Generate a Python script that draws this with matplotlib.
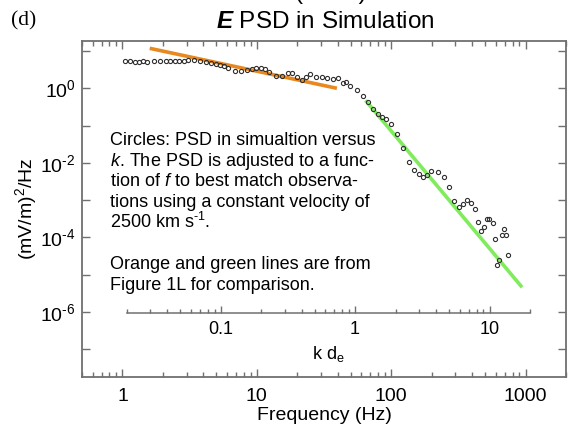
import matplotlib.pyplot as plt
import numpy as np
from matplotlib.ticker import FixedLocator, FuncFormatter, NullFormatter

plt.rcParams['font.family'] = ['Liberation Sans', 'DejaVu Sans']
plt.rcParams['mathtext.fontset'] = 'custom'
plt.rcParams['mathtext.rm'] = 'Liberation Sans'
plt.rcParams['mathtext.it'] = 'Liberation Sans:italic'
plt.rcParams['mathtext.bf'] = 'Liberation Sans:bold:italic'

# PSD circles from the simulation as log10 values
log_freq = [0.019, 0.059, 0.094, 0.123, 0.153, 0.183, 0.238, 0.283, 0.322, 0.357,
            0.391, 0.421, 0.456, 0.486, 0.535, 0.580, 0.619, 0.659, 0.694, 0.723,
            0.753, 0.788, 0.837, 0.885, 0.926, 0.961, 0.996, 1.030, 1.060, 1.090,
            1.140, 1.184, 1.229, 1.264, 1.298, 1.333, 1.363, 1.393, 1.442, 1.487,
            1.526, 1.566, 1.601, 1.638, 1.665, 1.695, 1.742, 1.789, 1.831, 1.868,
            1.903, 1.933, 1.963, 1.995, 2.042, 2.091, 2.131, 2.170, 2.205, 2.235,
            2.268, 2.294, 2.346, 2.390, 2.433, 2.471, 2.506, 2.538, 2.567, 2.597,
            2.622, 2.647, 2.671, 2.694, 2.714, 2.731, 2.755, 2.776, 2.789, 2.805,
            2.822, 2.840, 2.852, 2.868]
log_psd = [0.740, 0.740, 0.705, 0.705, 0.740, 0.705, 0.732, 0.724, 0.724, 0.724,
           0.732, 0.732, 0.740, 0.767, 0.759, 0.732, 0.705, 0.678, 0.651, 0.625,
           0.590, 0.544, 0.464, 0.464, 0.499, 0.517, 0.536, 0.544, 0.517, 0.445,
           0.322, 0.338, 0.418, 0.418, 0.303, 0.231, 0.303, 0.391, 0.290, 0.290,
           0.282, 0.244, 0.263, 0.155, 0.169, 0.056, -0.046, -0.201, -0.375, -0.555,
           -0.676, -0.769, -0.836, -0.949, -1.225, -1.601, -1.981, -2.196, -2.303, -2.378,
           -2.332, -2.209, -2.244, -2.391, -2.646, -3.021, -3.190, -3.094, -2.995, -3.067,
           -3.223, -3.584, -3.826, -3.718, -3.512, -3.512, -3.619, -4.027, -4.729, -4.595,
           -3.938, -3.772, -3.933, -4.475]

# comparison lines from Figure 1L (end points, log10)
orange_log_freq = [0.203, 1.596]
orange_log_psd = [1.072, 0.0]
green_log_freq = [1.809, 2.974]
green_log_psd = [-0.322, -5.335]

freq_ticks = [1, 10, 100, 1000]
kde_ticks = [0.1, 1, 10]

text_lines = [
    "Circles: PSD in simualtion versus",
    r"$\mathit{k}$. The PSD is adjusted to a func-",
    r"tion of $\mathit{f}$ to best match observa-",
    "tions using a constant velocity of",
    r"2500 km s$^{\text{-}1}$.",
    "",
    "Orange and green lines are from",
    "Figure 1L for comparison.",
]


def decade_label(v, pos):
    e = int(round(np.log10(v)))
    if e % 2:
        return ""
    if e < 0:
        return r"$10^{\text{-}%d}$" % -e
    return r"$10^{%d}$" % e


W, H = 574, 426
fig = plt.figure(figsize=(W / 100, H / 100), dpi=100)
ax = fig.add_axes([82 / W, (H - 377) / H, 484 / W, 336 / H])

spine_col = '#707070'

ax.plot(10 ** np.array(log_freq), 10 ** np.array(log_psd), 'o', ms=3.0,
        mfc='none', mec='#303030', mew=0.8, zorder=3)
ax.plot(10 ** np.array(orange_log_freq), 10 ** np.array(orange_log_psd),
        color='#E8891F', lw=2.6, solid_capstyle='butt', zorder=2)
ax.plot(10 ** np.array(green_log_freq), 10 ** np.array(green_log_psd),
        color='#80EC5C', lw=2.6, solid_capstyle='butt', zorder=2)

ax.set_xscale('log')
ax.set_yscale('log')
ax.set_xlim(0.5, 2000)
ax.set_ylim(10 ** -7.74, 10 ** 1.268)

ax.xaxis.set_major_locator(FixedLocator(freq_ticks))
ax.xaxis.set_major_formatter(FuncFormatter(lambda v, p: f"{v:g}"))
minor_x = [m * 10.0 ** e for e in range(-1, 4) for m in range(2, 10)]
ax.xaxis.set_minor_locator(FixedLocator(minor_x))
ax.xaxis.set_minor_formatter(NullFormatter())

ax.yaxis.set_major_locator(FixedLocator([10.0 ** e for e in range(-7, 2)]))
ax.yaxis.set_major_formatter(FuncFormatter(decade_label))
ax.yaxis.set_minor_locator(FixedLocator([]))

ax.tick_params(which='both', direction='in', top=True, right=True,
               color=spine_col, width=1.0, labelsize=14)
ax.tick_params(axis='x', which='major', length=6, pad=8)
ax.tick_params(axis='x', which='minor', length=3.6)
ax.tick_params(axis='y', which='major', length=5.8, pad=4.5)
for s in ax.spines.values():
    s.set_color(spine_col)
    s.set_linewidth(1.3)

ax.set_xlabel("Frequency (Hz)", fontsize=14, labelpad=1)
fig.text(26 / W, 0.5 * ((H - 377) + (H - 41)) / H, r"(mV/m)$^2$/Hz",
         rotation=90, ha='center', va='center', fontsize=14)

# inner k d_e axis
inner = fig.add_axes([126.7 / W, (H - 313) / H, 403.3 / W, 0.01])
inner.patch.set_alpha(0)
for side in ['top', 'left', 'right']:
    inner.spines[side].set_visible(False)
inner.spines['bottom'].set_color(spine_col)
inner.spines['bottom'].set_linewidth(1.1)
inner.set_xscale('log')
inner.set_xlim(0.02, 20)
inner.set_yticks([])
inner.xaxis.set_major_locator(FixedLocator(kde_ticks))
inner.xaxis.set_major_formatter(FuncFormatter(lambda v, p: f"{v:g}"))
minor_k = [m * 10.0 ** e for e in range(-2, 2) for m in range(2, 10)]
inner.xaxis.set_minor_locator(FixedLocator([v for v in minor_k if v <= 20.001]))
inner.xaxis.set_minor_formatter(NullFormatter())
inner.tick_params(which='both', direction='in', color=spine_col, width=1.0, labelsize=13)
inner.tick_params(which='major', length=4.8, pad=6)
inner.tick_params(which='minor', length=2.9)
inner.set_xlabel(r"k d$_{\mathrm{e}}$", fontsize=13, labelpad=4)

# annotation text
for i, line in enumerate(text_lines):
    if line:
        fig.text(110 / W, 1 - (145 + 20.7 * i) / H, line, fontsize=13,
                 ha='left', va='baseline')

fig.text(325 / W, 1 - 22 / H, r"$\mathbf{E}$ PSD in Simulation", fontsize=17.5,
         ha='center', va='center')
fig.text(24 / W, 1 - 21 / H, "(d)", family='Liberation Serif', fontsize=15.5,
         ha='center', va='center')
# caption line above the panel, cut off by the top edge as in the original
fig.text(331 / W, 1 + 0.5 / H, "(MMS)", fontsize=17.5, ha='center', va='baseline')

fig.savefig('out.png', dpi=100)
